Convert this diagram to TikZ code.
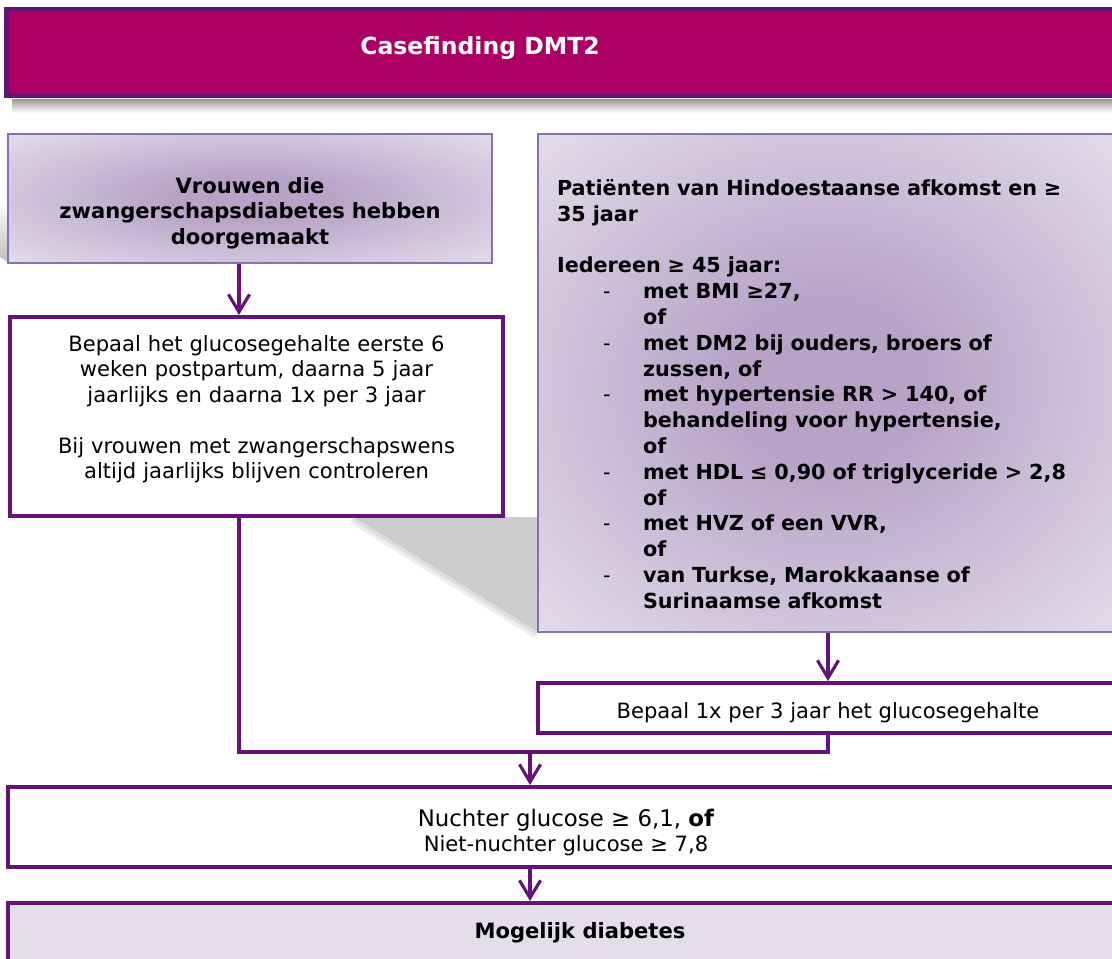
\documentclass[tikz,border=0pt]{standalone}
\usepackage{fontspec}
\setmainfont{DejaVu Sans}
\usetikzlibrary{arrows.meta, positioning}
\definecolor{titlefill}{RGB}{172,0,100}
\definecolor{titleedge}{RGB}{100,20,115}
\definecolor{flowpurple}{RGB}{102,18,122}
\definecolor{lavfill}{RGB}{227,222,234}
\definecolor{lavdark}{RGB}{184,162,200}
\definecolor{lavedge}{RGB}{140,110,180}
\pgfdeclareradialshading{lavglow}{\pgfpoint{0bp}{0bp}}{color(0bp)=(lavdark); color(8bp)=(lavdark); color(36bp)=(lavfill); color(60bp)=(lavfill)}
\newcommand{\critdash}{\hspace*{0.92cm}\makebox[0.8cm][l]{\mdseries -}}
\newcommand{\critgap}{\hspace*{1.72cm}}
\tikzset{
  titlebar/.style={rectangle, draw=titleedge, line width=2.8pt, fill=titlefill, inner sep=0pt},
  titletext/.style={font=\bfseries\fontsize{13.4}{16}\selectfont, text=white},
  groupbox/.style={rectangle, draw=lavedge, line width=1.1pt, shade, shading=lavglow,
                   inner sep=0.2cm, font=\bfseries\fontsize{12}{14.5}\selectfont},
  stepbox/.style={rectangle, draw=flowpurple, line width=2.3pt, fill=white, inner sep=0.2cm,
                  align=center, font=\fontsize{12}{14.5}\selectfont},
  resultbox/.style={stepbox, fill=lavfill, font=\bfseries\fontsize{12}{14.5}\selectfont},
  arrow/.style={-{Straight Barb[length=10pt, width=12pt]}, line width=1.8pt, color=flowpurple},
  link/.style={line width=1.8pt, color=flowpurple},
}

\begin{document}
\begin{tikzpicture}[x=0.02cm, y=-0.02cm]
  \useasboundingbox (0,0) rectangle (1112,958);
  \clip (0,0) rectangle (1112,958);

  % -- shadows --
  \shade[top color=black!40, bottom color=white] (12,99) rectangle (1112,113);
  \shade[top color=white, bottom color=black!25] (8,262) -- (-90,200) -- (8,200) -- cycle;
  \draw[black!7, line width=8pt] (538,632) -- (354,517);
  \draw[black!13, line width=4pt] (538,632) -- (354,517);
  \fill[black!20] (538,632) -- (354,517) -- (538,517) -- cycle;

  % -- title --
  \node[titlebar, minimum width=22.48cm, minimum height=1.74cm] (title) at (568,52.5) {};
  \node[titletext] (titletxt) at (480,48) {Casefinding DMT2};

  % -- left column --
  \node[groupbox, minimum width=9.68cm, minimum height=2.58cm, text width=9.28cm, align=center] (A) at (250,198.5)
    {\rule{0pt}{0.9cm}Vrouwen die\\ zwangerschapsdiabetes hebben\\ doorgemaakt};

  \node[stepbox, minimum width=9.86cm, minimum height=3.98cm, text width=9.46cm] (B) at (256.5,416.5)
    {Bepaal het glucosegehalte eerste 6\\ weken postpartum, daarna 5 jaar\\ jaarlijks en daarna 1x per 3 jaar\\[14.5pt]
     Bij vrouwen met zwangerschapswens\\ altijd jaarlijks blijven controleren\rule[-0.38cm]{0pt}{0.38cm}};

  % -- right column --
  \node[groupbox, minimum width=11.6cm, minimum height=9.96cm, text width=10.84cm, inner xsep=0.38cm,
        align=left, font=\bfseries\fontsize{11.8}{14.68}\selectfont] (C) at (828,383)
    {\rule{0pt}{0.76cm}Patiënten van Hindoestaanse afkomst en ≥\\
     35 jaar\\[14.68pt]
     Iedereen ≥ 45 jaar:\\
     \critdash met BMI ≥27,\\
     \critgap of\\
     \critdash met DM2 bij ouders, broers of\\
     \critgap zussen, of\\
     \critdash met hypertensie RR > 140, of\\
     \critgap behandeling voor hypertensie,\\
     \critgap of\\
     \critdash met HDL ≤ 0,90 of triglyceride > 2,8\\
     \critgap of\\
     \critdash met HVZ of een VVR,\\
     \critgap of\\
     \critdash van Turkse, Marokkaanse of\\
     \critgap Surinaamse afkomst};

  \node[stepbox, minimum width=11.6cm, minimum height=1.0cm] (D) at (828,708)
    {\rule{0pt}{0.5cm}Bepaal 1x per 3 jaar het glucosegehalte};

  % -- outcome --
  \node[stepbox, minimum width=22.32cm, minimum height=1.6cm] (E) at (566,827)
    {{\fontsize{13}{13.7}\selectfont\rule{0pt}{0.56cm}Nuchter glucose ≥ 6,1, \textbf{of}}\\
     Niet-nuchter glucose ≥ 7,8};

  \node[resultbox, minimum width=22.88cm, minimum height=1.18cm] (F) at (580,932.5)
    {Mogelijk diabetes};

  % -- connectors --
  \coordinate (join) at (530,752);
  \draw[arrow] ([xshift=-0.22cm]A.south) -- ([xshift=-0.22cm]A.south |- B.north);
  \draw[arrow] (C.south) -- (D.north);
  \draw[link] ([xshift=-0.35cm]B.south) |- (D.south |- join) -- (D.south);
  \draw[arrow] (join) -- (join |- E.north);
  \draw[arrow] (join |- E.south) -- (join |- F.north);
\end{tikzpicture}
\end{document}
